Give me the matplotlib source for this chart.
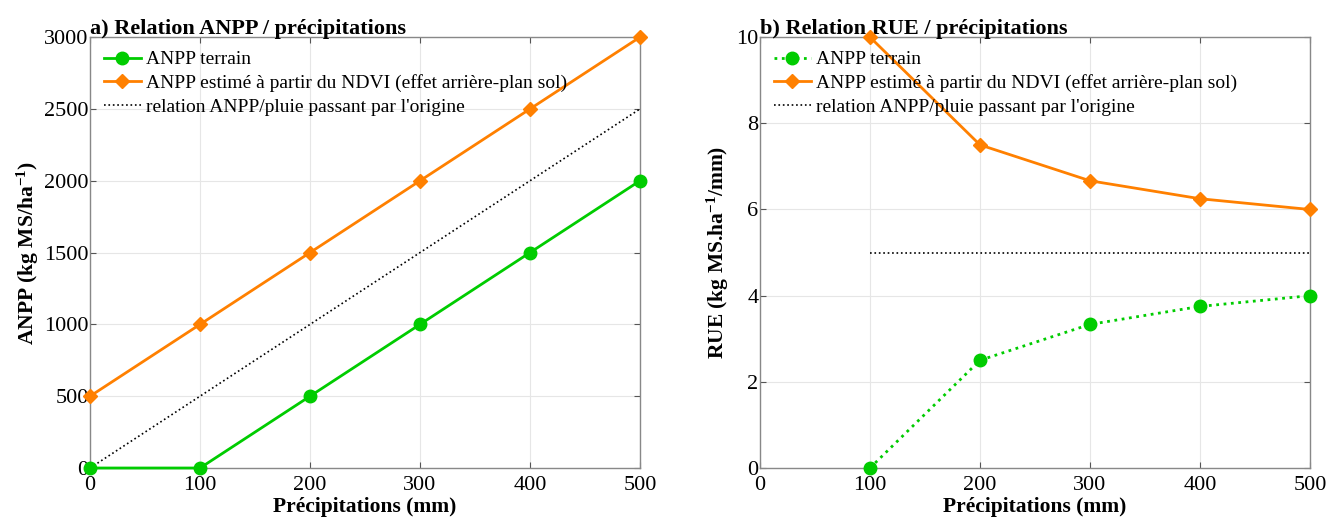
import matplotlib
matplotlib.use("Agg")
import matplotlib.pyplot as plt

plt.rcParams['font.family'] = ['Liberation Serif', 'DejaVu Serif']
plt.rcParams['mathtext.fontset'] = 'custom'
plt.rcParams['mathtext.rm'] = 'Liberation Serif'
plt.rcParams['mathtext.bf'] = 'Liberation Serif:bold'
plt.rcParams['mathtext.it'] = 'Liberation Serif:italic'

precip = [0, 100, 200, 300, 400, 500]
anpp_terrain = [0, 0, 500, 1000, 1500, 2000]
anpp_ndvi = [500, 1000, 1500, 2000, 2500, 3000]
origin_x = [0, 500]
origin_y = [0, 2500]

rue_x = [100, 200, 300, 400, 500]
rue_terrain = [0, 2.5, 3.333, 3.75, 4.0]
rue_ndvi = [10, 7.5, 6.667, 6.25, 6.0]
rue_origin_x = [100, 500]
rue_origin_y = [5, 5]

labels = ["ANPP terrain", "ANPP estimé à partir du NDVI (effet arrière-plan sol)",
          "relation ANPP/pluie passant par l'origine"]

green = '#00CC00'
orange = '#FF8000'

fig = plt.figure(figsize=(13.38, 5.21), dpi=100)
ax1 = fig.add_axes([0.0673, 0.1017, 0.411, 0.827])
ax2 = fig.add_axes([0.568, 0.1017, 0.411, 0.827])

def style(ax):
    ax.grid(True, color='#e6e6e6', linewidth=0.8)
    ax.set_axisbelow(True)
    for s in ax.spines.values():
        s.set_color('#888888')
        s.set_linewidth(1.0)
    ax.tick_params(direction='in', length=4, labelsize=16, color='#555555',
                   top=True, right=True, pad=1)
    ax.tick_params(axis='x', pad=6)

ax1.plot(precip, anpp_terrain, '-o', color=green, lw=2, ms=9, label=labels[0], clip_on=False, zorder=4)
ax1.plot(precip, anpp_ndvi, '-D', color=orange, lw=2, ms=7, label=labels[1], clip_on=False, zorder=4)
ax1.plot(origin_x, origin_y, ':', color='black', lw=1.2, label=labels[2], clip_on=False, zorder=3)
ax1.set_xlim(0, 500)
ax1.set_ylim(0, 3000)
ax1.set_xticks([0, 100, 200, 300, 400, 500])
ax1.set_yticks([0, 500, 1000, 1500, 2000, 2500, 3000])
style(ax1)
ax1.set_xlabel('Précipitations (mm)', fontsize=15.5, fontweight='bold', labelpad=1)
ax1.set_ylabel('ANPP (kg MS/ha$^{\\mathbf{-1}}$)', fontsize=15.5, fontweight='bold', labelpad=2)
ax1.set_title('a) Relation ANPP / précipitations', fontsize=16, fontweight='bold', loc='left', pad=2)
ax1.legend(loc='upper left', frameon=False, fontsize=14, handlelength=1.9,
           borderaxespad=0.3, labelspacing=0.3, handletextpad=0.3)

ax2.plot(rue_x, rue_terrain, ':o', color=green, lw=2, ms=9, label=labels[0], clip_on=False, zorder=4)
ax2.plot(rue_x, rue_ndvi, '-D', color=orange, lw=2, ms=7, label=labels[1], clip_on=False, zorder=4)
ax2.plot(rue_origin_x, rue_origin_y, ':', color='black', lw=1.2, label=labels[2], clip_on=False, zorder=3)
ax2.set_xlim(0, 500)
ax2.set_ylim(0, 10)
ax2.set_xticks([0, 100, 200, 300, 400, 500])
ax2.set_yticks([0, 2, 4, 6, 8, 10])
style(ax2)
ax2.set_xlabel('Précipitations (mm)', fontsize=15.5, fontweight='bold', labelpad=1)
ax2.set_ylabel('RUE (kg MS.ha$^{\\mathbf{-1}}$/mm)', fontsize=15.5, fontweight='bold', labelpad=4)
ax2.set_title('b) Relation RUE / précipitations', fontsize=16, fontweight='bold', loc='left', pad=2)
ax2.legend(loc='upper left', frameon=False, fontsize=14, handlelength=1.9,
           borderaxespad=0.3, labelspacing=0.3, handletextpad=0.3)

fig.savefig('out.png', dpi=100)
